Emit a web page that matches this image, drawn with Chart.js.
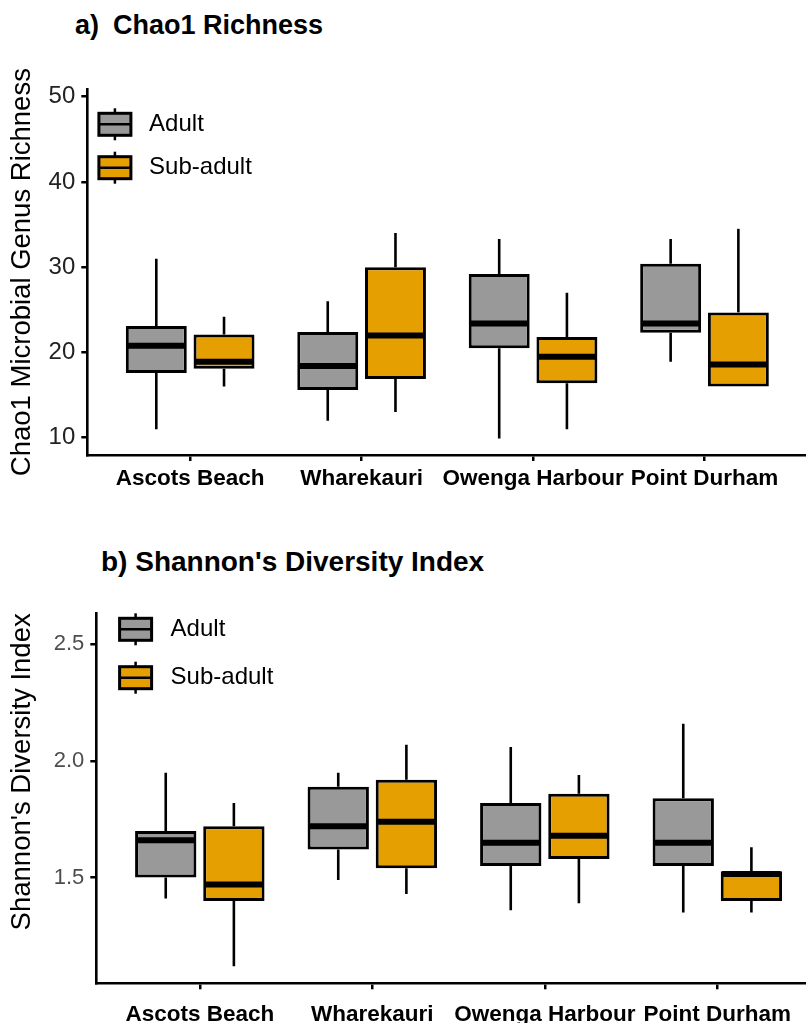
<!DOCTYPE html>
<html>
<head>
<meta charset="utf-8">
<script src="https://cdn.jsdelivr.net/npm/chart.js@4.4.1/dist/chart.umd.min.js"></script>
<style>
body{margin:0;background:#fff;width:806px;height:1023px;overflow:hidden;position:relative;font-family:"Liberation Sans",Arial,sans-serif}
.panel{position:absolute;left:0;width:806px}
.ttl{position:absolute;font-weight:bold;font-size:28px;line-height:1;color:#000;white-space:pre}
</style>
</head>
<body>
<div class="ttl" style="left:75px;top:12px;font-size:27px">a)<span style="margin-left:14px">Chao1 Richness</span></div>
<div class="panel" style="top:0;height:510px"><canvas id="chao"></canvas></div>
<div class="ttl" style="left:101px;top:548px">b) Shannon's Diversity Index</div>
<div class="panel" style="top:510px;height:513px"><canvas id="shannon"></canvas></div>
<script>
const sites = ["Ascots Beach", "Wharekauri", "Owenga Harbour", "Point Durham"];
const groups = ["Adult", "Sub-adult"];
const groupColors = ["#999999", "#E69F00"];

// Chao1 richness: five-number summaries per site
const chaoAdultMin = [11.0, 12.0, 9.9, 18.9];
const chaoAdultQ1 = [17.6, 15.6, 20.5, 22.3];
const chaoAdultMed = [20.8, 18.4, 23.4, 23.4];
const chaoAdultQ3 = [23.1, 22.4, 29.2, 30.4];
const chaoAdultMax = [31.0, 26.0, 33.3, 33.3];

const chaoSubMin = [16.0, 13.0, 11.0, 16.0];
const chaoSubQ1 = [18.1, 16.9, 16.4, 16.0];
const chaoSubMed = [18.9, 22.0, 19.5, 18.6];
const chaoSubQ3 = [22.1, 30.0, 21.8, 24.7];
const chaoSubMax = [24.2, 34.0, 27.0, 34.5];

// Shannon diversity
const shanAdultMin = [1.41, 1.49, 1.36, 1.35];
const shanAdultQ1 = [1.50, 1.62, 1.55, 1.55];
const shanAdultMed = [1.66, 1.72, 1.65, 1.65];
const shanAdultQ3 = [1.70, 1.89, 1.82, 1.84];
const shanAdultMax = [1.95, 1.95, 2.06, 2.16];

const shanSubMin = [1.12, 1.43, 1.39, 1.35];
const shanSubQ1 = [1.40, 1.54, 1.58, 1.40];
const shanSubMed = [1.47, 1.74, 1.68, 1.515];
const shanSubQ3 = [1.72, 1.92, 1.86, 1.527];
const shanSubMax = [1.82, 2.07, 1.94, 1.63];

const chaoTicks = [10, 20, 30, 40, 50];
const shanTicks = [1.5, 2.0, 2.5];

const FONT = "'Liberation Sans', Arial, sans-serif";

function boxSet(label, color, min, q1, med, q3, max){
  return {
    label: label,
    data: q1.map((v, i) => ({x: i + 1, y: [v, q3[i]]})),
    backgroundColor: color,
    borderColor: "#000",
    borderWidth: 3,
    borderSkipped: false,
    categoryPercentage: 0.79,
    barPercentage: 0.9,
    whiskers: {min: min, med: med, max: max}
  };
}

// whiskers and median bar on top of each box
const boxWhiskers = {
  id: "boxWhiskers",
  afterDatasetsDraw(chart){
    const ctx = chart.ctx;
    const ys = chart.scales.y;
    ctx.save();
    ctx.strokeStyle = "#000";
    chart.data.datasets.forEach((ds, d) => {
      chart.getDatasetMeta(d).data.forEach((bar, i) => {
        const p = bar.getProps(["x", "width"], true);
        const w = ds.whiskers;
        const q1 = ds.data[i].y[0];
        const q3 = ds.data[i].y[1];
        ctx.lineWidth = 2.6;
        ctx.beginPath();
        ctx.moveTo(p.x, ys.getPixelForValue(w.max[i]));
        ctx.lineTo(p.x, ys.getPixelForValue(q3));
        ctx.moveTo(p.x, ys.getPixelForValue(q1));
        ctx.lineTo(p.x, ys.getPixelForValue(w.min[i]));
        ctx.stroke();
        const m = ys.getPixelForValue(w.med[i]);
        ctx.lineWidth = 6;
        ctx.beginPath();
        ctx.moveTo(p.x - p.width / 2 + 1.5, m);
        ctx.lineTo(p.x + p.width / 2 - 1.5, m);
        ctx.stroke();
      });
    });
    ctx.restore();
  }
};

// legend with small box glyphs, placed inside the plot panel
const boxLegend = {
  id: "boxLegend",
  afterDraw(chart, args, opts){
    const ctx = chart.ctx;
    const a = chart.chartArea;
    ctx.save();
    chart.data.datasets.forEach((ds, d) => {
      const x0 = a.left + opts.x;
      const y0 = a.top + opts.y + d * opts.step;
      const bw = 32, bh = 22, cx = x0 + bw / 2;
      ctx.strokeStyle = "#000";
      ctx.lineWidth = 2.5;
      ctx.beginPath();
      ctx.moveTo(cx, y0 - 5);
      ctx.lineTo(cx, y0 + bh + 5);
      ctx.stroke();
      ctx.fillStyle = ds.backgroundColor;
      ctx.fillRect(x0, y0, bw, bh);
      ctx.lineWidth = 3;
      ctx.strokeRect(x0, y0, bw, bh);
      ctx.lineWidth = 2.5;
      ctx.beginPath();
      ctx.moveTo(x0, y0 + bh / 2);
      ctx.lineTo(x0 + bw, y0 + bh / 2);
      ctx.stroke();
      ctx.fillStyle = "#000";
      ctx.font = "24px " + FONT;
      ctx.textBaseline = "middle";
      ctx.fillText(ds.label, a.left + opts.textX, y0 + bh / 2);
    });
    ctx.restore();
  }
};

function makePanel(id, sets, cfg){
  return new Chart(document.getElementById(id), {
    type: "bar",
    data: {datasets: sets},
    plugins: [boxWhiskers, boxLegend],
    options: {
      responsive: true,
      maintainAspectRatio: false,
      animation: false,
      layout: {padding: {top: cfg.top, left: 0, right: 0, bottom: 0}},
      plugins: {
        legend: {display: false},
        tooltip: {enabled: false},
        boxLegend: cfg.legend
      },
      scales: {
        x: {
          type: "linear",
          min: 0.4,
          max: cfg.xMax,
          offset: false,
          afterBuildTicks: s => { s.ticks = sites.map((n, i) => ({value: i + 1})); },
          afterFit: s => { s.height = cfg.xHeight; },
          grid: {offset: false, drawOnChartArea: false, drawTicks: true, tickLength: 6, color: "#000", lineWidth: 2.5},
          border: {display: true, color: "#000", width: 2.6},
          ticks: {
            autoSkip: false,
            maxRotation: 0,
            padding: cfg.xPad,
            color: "#000",
            font: {family: FONT, size: 22.5, weight: "bold"},
            callback: (v, i) => sites[i]
          }
        },
        y: {
          min: cfg.yMin,
          max: cfg.yMax,
          afterBuildTicks: s => { s.ticks = cfg.ticks.map(v => ({value: v})); },
          afterFit: s => { s.width = cfg.yWidth; },
          grid: {drawOnChartArea: false, drawTicks: true, tickLength: 6, color: "#000", lineWidth: 2.5},
          border: {display: true, color: "#000", width: 2.6},
          ticks: {
            padding: 6,
            color: cfg.tickColor,
            font: {family: FONT, size: cfg.tickSize},
            callback: cfg.fmt
          },
          title: {
            display: true,
            text: cfg.yTitle,
            align: cfg.titleAlign,
            color: "#000",
            font: {family: FONT, size: 27.5},
            padding: {top: 6, bottom: 0}
          }
        }
      }
    }
  });
}

makePanel("chao", [
  boxSet(groups[0], groupColors[0], chaoAdultMin, chaoAdultQ1, chaoAdultMed, chaoAdultQ3, chaoAdultMax),
  boxSet(groups[1], groupColors[1], chaoSubMin, chaoSubQ1, chaoSubMed, chaoSubQ3, chaoSubMax)
], {
  top: 89.3, xHeight: 55, yWidth: 87.3, xMax: 4.592, xPad: 4,
  yMin: 7.97, yMax: 50.87, ticks: chaoTicks, fmt: v => v,
  tickSize: 24, tickColor: "#222",
  yTitle: "Chao1 Microbial Genus Richness", titleAlign: "center",
  legend: {x: 11.6, y: 24, step: 43.4, textX: 61.8}
});

makePanel("shannon", [
  boxSet(groups[0], groupColors[0], shanAdultMin, shanAdultQ1, shanAdultMed, shanAdultQ3, shanAdultMax),
  boxSet(groups[1], groupColors[1], shanSubMin, shanSubQ1, shanSubMed, shanSubQ3, shanSubMax)
], {
  top: 103.3, xHeight: 39.7, yWidth: 96.3, xMax: 4.514, xPad: 12,
  yMin: 1.047, yMax: 2.633, ticks: shanTicks, fmt: v => v.toFixed(1),
  tickSize: 22, tickColor: "#4d4d4d",
  yTitle: "Shannon's Diversity Index", titleAlign: "end",
  legend: {x: 23.3, y: 5, step: 48.4, textX: 74.3}
});
</script>
</body>
</html>
